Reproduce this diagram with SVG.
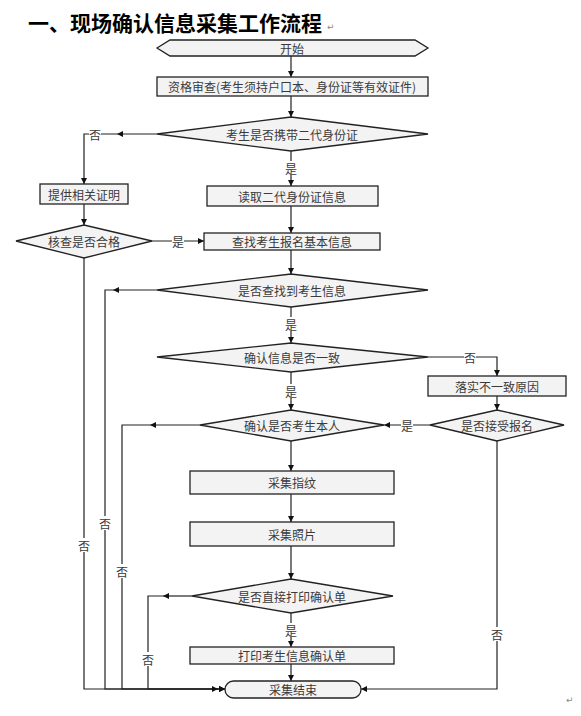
<svg xmlns="http://www.w3.org/2000/svg" width="581" height="716" viewBox="0 0 581 716">
<defs>
<marker id="ah" viewBox="0 0 10 10" refX="10" refY="5" markerWidth="6" markerHeight="6" markerUnits="userSpaceOnUse" orient="auto">
<path d="M0,0 L10,5 L0,10 z" fill="#111"/>
</marker>
<style>
.shape{fill:#f3f3f3;stroke:#222;stroke-width:1.3}
.t{font-family:"Noto Sans CJK SC","Noto Sans CJK JP",sans-serif;font-size:12px;fill:#3a3a3a;text-anchor:middle;dominant-baseline:central}
.c{fill:none;stroke:#222;stroke-width:1.2}
.a{fill:none;stroke:#222;stroke-width:1.2;marker-end:url(#ah)}
.lb{fill:#fff}
.title{font-family:"Noto Sans CJK SC",sans-serif;font-size:21px;font-weight:bold;fill:#000}
.pm{font-family:"DejaVu Sans",sans-serif;font-size:9px;fill:#888}
</style>
</defs>
<rect width="581" height="716" fill="#fff"/>
<text class="title" x="28" y="31">一、现场确认信息采集工作流程</text>
<text class="pm" x="327" y="30">↵</text>
<text class="pm" x="566" y="703">↵</text>

<g id="connectors">
<line class="a" x1="291" y1="56" x2="291" y2="77"/>
<line class="a" x1="291" y1="96" x2="291" y2="117"/>
<line class="a" x1="157" y1="134" x2="117" y2="134"/>
<polyline class="a" points="117,134 84,134 84,184"/>
<line class="a" x1="291" y1="151" x2="291" y2="186"/>
<line class="a" x1="84" y1="204" x2="84" y2="225"/>
<line class="a" x1="152" y1="241" x2="204" y2="241"/>
<line class="a" x1="291" y1="206" x2="291" y2="233"/>
<line class="a" x1="291" y1="250" x2="291" y2="274"/>
<line class="a" x1="157" y1="290" x2="113" y2="290"/>
<polyline class="a" points="113,290 105,290 105,689 225,689"/>
<polyline class="a" points="84,258 84,689 225,689"/>
<line class="a" x1="291" y1="307" x2="291" y2="343"/>
<polyline class="a" points="428,357 497,357 497,376"/>
<line class="a" x1="291" y1="372" x2="291" y2="410"/>
<line class="a" x1="497" y1="396" x2="497" y2="410"/>
<line class="a" x1="430" y1="425" x2="384" y2="425"/>
<polyline class="a" points="497,441 497,689 361,689"/>
<line class="a" x1="200" y1="425" x2="150" y2="425"/>
<polyline class="a" points="150,425 122,425 122,689 225,689"/>
<line class="a" x1="291" y1="441" x2="291" y2="471"/>
<line class="a" x1="291" y1="494" x2="291" y2="522"/>
<line class="a" x1="291" y1="546" x2="291" y2="579"/>
<line class="a" x1="192" y1="596" x2="163" y2="596"/>
<polyline class="a" points="163,596 148,596 148,689 218,689"/>
<line class="a" x1="291" y1="613" x2="291" y2="647"/>
<line class="a" x1="291" y1="664" x2="291" y2="681"/>
<!-- labels -->
<rect class="lb" x="89" y="127" width="12" height="14"/><text class="t" x="95" y="134">否</text>
<rect class="lb" x="285" y="161" width="12" height="14"/><text class="t" x="291" y="168">是</text>
<rect class="lb" x="172" y="234" width="12" height="14"/><text class="t" x="178" y="241">是</text>
<rect class="lb" x="78" y="538" width="12" height="14"/><text class="t" x="84" y="545">否</text>
<rect class="lb" x="99" y="516" width="12" height="14"/><text class="t" x="105" y="523">否</text>
<rect class="lb" x="285" y="317" width="12" height="14"/><text class="t" x="291" y="324">是</text>
<rect class="lb" x="464" y="350" width="12" height="14"/><text class="t" x="470" y="357">否</text>
<rect class="lb" x="285" y="384" width="12" height="14"/><text class="t" x="291" y="391">是</text>
<rect class="lb" x="401" y="418" width="12" height="14"/><text class="t" x="407" y="425">是</text>
<rect class="lb" x="491" y="627" width="12" height="14"/><text class="t" x="497" y="634">否</text>
<rect class="lb" x="116" y="564" width="12" height="14"/><text class="t" x="122" y="571">否</text>
<rect class="lb" x="142" y="652" width="12" height="14"/><text class="t" x="148" y="659">否</text>
<rect class="lb" x="285" y="623" width="12" height="14"/><text class="t" x="291" y="630">是</text>
</g>

<g id="start"><polygon class="shape" points="157,48 170,40 415,40 428,48 415,56 170,56"/><text class="t" x="292" y="48">开始</text></g>
<g id="qual"><rect class="shape" x="157" y="77" width="271" height="19"/><text class="t" x="292" y="86.5">资格审查(考生须持户口本、身份证等有效证件)</text></g>
<g id="d_card"><polygon class="shape" points="157,134 291,117 428,134 291,151"/><text class="t" x="292" y="134">考生是否携带二代身份证</text></g>
<g id="proof"><rect class="shape" x="40" y="184" width="88" height="20"/><text class="t" x="84" y="194">提供相关证明</text></g>
<g id="d_check"><polygon class="shape" points="16,241 84,225 152,241 84,258"/><text class="t" x="84" y="241">核查是否合格</text></g>
<g id="read"><rect class="shape" x="207" y="186" width="171" height="20"/><text class="t" x="292" y="196">读取二代身份证信息</text></g>
<g id="find"><rect class="shape" x="204" y="233" width="176" height="17"/><text class="t" x="292" y="241.5">查找考生报名基本信息</text></g>
<g id="d_found"><polygon class="shape" points="157,290 291,274 428,290 291,307"/><text class="t" x="292" y="290">是否查找到考生信息</text></g>
<g id="d_consistent"><polygon class="shape" points="157,357 291,343 428,357 291,372"/><text class="t" x="292" y="357">确认信息是否一致</text></g>
<g id="reason"><rect class="shape" x="428" y="376" width="138" height="20"/><text class="t" x="497" y="386">落实不一致原因</text></g>
<g id="d_accept"><polygon class="shape" points="430,425 497,410 564,425 497,441"/><text class="t" x="497" y="425">是否接受报名</text></g>
<g id="d_self"><polygon class="shape" points="200,425 291,410 384,425 291,441"/><text class="t" x="292" y="425">确认是否考生本人</text></g>
<g id="finger"><rect class="shape" x="190" y="471" width="204" height="23"/><text class="t" x="292" y="482.5">采集指纹</text></g>
<g id="photo"><rect class="shape" x="190" y="522" width="204" height="24"/><text class="t" x="292" y="534">采集照片</text></g>
<g id="d_print"><polygon class="shape" points="192,596 291,579 393,596 291,613"/><text class="t" x="292" y="596">是否直接打印确认单</text></g>
<g id="print"><rect class="shape" x="190" y="647" width="204" height="17"/><text class="t" x="292" y="655.5">打印考生信息确认单</text></g>
<g id="end"><rect class="shape" x="225" y="681" width="136" height="17" rx="8.5" ry="8.5"/><text class="t" x="293" y="689.5">采集结束</text></g>
</svg>
